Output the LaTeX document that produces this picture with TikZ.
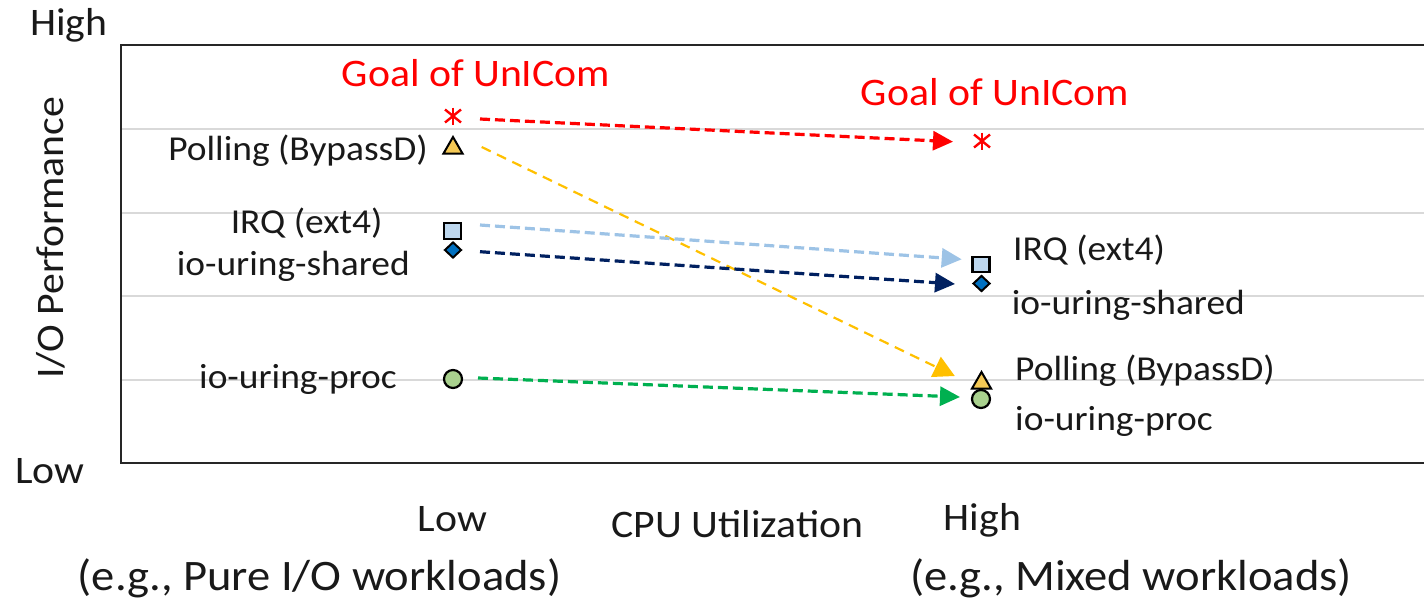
\documentclass[tikz,border=0pt]{standalone}
\usepackage{fontspec}
\setmainfont{Carlito}[FakeStretch=1.07]
\usetikzlibrary{arrows.meta,shapes.geometric}

\definecolor{gridgray}{HTML}{D9D9D9}
\definecolor{goalred}{HTML}{FF0000}
\definecolor{pollyellow}{HTML}{FFC000}
\definecolor{pollfill}{HTML}{F5C955}
\definecolor{irqblue}{HTML}{9DC3E6}
\definecolor{irqfill}{HTML}{BDD7EE}
\definecolor{sharednavy}{HTML}{002060}
\definecolor{sharedfill}{HTML}{0070C0}
\definecolor{procgreen}{HTML}{00B050}
\definecolor{procfill}{HTML}{A9D18E}

\tikzset{
  txt/.style={inner sep=0pt, text=black!90},
  lbl/.style={txt, font=\fontsize{35}{40}\selectfont},
  axislbl/.style={txt, font=\fontsize{39}{44}\selectfont},
  goallbl/.style={inner sep=0pt, text=goalred, font=\fontsize{39}{44}\selectfont},
  notelbl/.style={txt, font=\fontsize{43.5}{50}\selectfont},
  mk/.style={draw=black, line width=2.2pt, inner sep=0pt},
  sqmark/.style={mk, rectangle, fill=irqfill, minimum width=17pt, minimum height=15.5pt},
  dmmark/.style={mk, diamond, fill=sharedfill, minimum width=17pt, minimum height=16pt, line width=2pt},
  trmark/.style={mk, regular polygon, regular polygon sides=3, fill=pollfill, minimum size=22pt, line width=2pt},
  cimark/.style={mk, circle, fill=procfill, minimum size=18pt},
  astmark/.style={inner sep=0pt, minimum size=17pt},
  astline/.style={goalred, line width=2.4pt},
  conn/.style={dash pattern=on 10pt off 5pt, line width=3.2pt,
    -{Triangle[length=20pt,width=19pt]}},
}

\begin{document}
\begin{tikzpicture}[x=1pt,y=-1pt]
\useasboundingbox (0,0) rectangle (1424,603);

% grid and frame
\foreach \gy in {129,212.5,296,379.5}
  \draw[gridgray, line width=2pt] (122,\gy) -- (1424,\gy);
\draw[black!85, line width=2.6pt] (1424,45) -- (121,45) -- (121,463) -- (1424,463);

% axis texts
\node[axislbl, anchor=base] (yhigh) at (69,35) {High};
\node[axislbl, anchor=base] (ylow) at (50,483) {Low};
\node[axislbl, anchor=base, rotate=90] (ytitle) at (63,238) {I/O Performance};
\node[axislbl, anchor=base] (xlow) at (452.5,531) {Low};
\node[axislbl, anchor=base] (xtitle) at (737.5,537) {CPU Utilization};
\node[axislbl, anchor=base] (xhigh) at (982.5,530) {High};
\node[notelbl, anchor=base] (noteL) at (319.5,590) {(e.g., Pure I/O workloads)};
\node[notelbl, anchor=base] (noteR) at (1131,590) {(e.g., Mixed workloads)};

% markers, low CPU column
\node[astmark] (gL) at (453,116) {};
\node[trmark] (pL) at (453,148) {};
\node[sqmark] (iL) at (452.5,231) {};
\node[dmmark] (sL) at (453,250) {};
\node[cimark] (cL) at (453,379) {};

% markers, high CPU column
\node[astmark] (gR) at (982,141) {};
\node[sqmark] (iR) at (981,264.5) {};
\node[dmmark] (sR) at (981.5,283.5) {};
\node[trmark] (pR) at (981.5,383) {};
\node[cimark] (cR) at (981,399) {};

% asterisks
\foreach \n in {gL,gR} {
  \draw[astline] ([shift={(0,-8.5)}]\n.center) -- ([shift={(0,8.5)}]\n.center);
  \draw[astline] ([shift={(-8,-6.5)}]\n.center) -- ([shift={(8,6.5)}]\n.center);
  \draw[astline] ([shift={(-8,6.5)}]\n.center) -- ([shift={(8,-6.5)}]\n.center);
}

% labels
\node[goallbl, anchor=base] (goalL) at (476,86.7) {Goal of UnICom};
\node[goallbl, anchor=base] (goalR) at (995,105) {Goal of UnICom};
\node[lbl, anchor=base east] (pollL) at (428,160.7) {Polling (BypassD)};
\node[lbl, anchor=base east] (irqL) at (382.7,233) {IRQ (ext4)};
\node[lbl, anchor=base east] (shL) at (410,275) {io-uring-shared};
\node[lbl, anchor=base east] (procL) at (397,388) {io-uring-proc};
\node[lbl, anchor=base west] (irqR) at (1013,260) {IRQ (ext4)};
\node[lbl, anchor=base west] (shR) at (1011.7,314) {io-uring-shared};
\node[lbl, anchor=base west] (pollR) at (1015,380) {Polling (BypassD)};
\node[lbl, anchor=base west] (procR) at (1015,430) {io-uring-proc};

% transitions from low to high CPU utilization
\draw[conn, goalred] ([shift={(27,3)}]gL.center) -- ([shift={(-29,0.7)}]gR.center);
\draw[conn, pollyellow, line width=2.2pt, dash pattern=on 10pt off 7pt,
      -{Triangle[length=21pt,width=22pt]}]
  ([shift={(28.7,-1)}]pL.center) -- ([shift={(-26.7,-7)}]pR.center);
\draw[conn, irqblue] ([shift={(27.5,-6)}]iL.center) -- ([shift={(-19.3,-5.2)}]iR.center);
\draw[conn, sharednavy] ([shift={(27,1.7)}]sL.center) -- ([shift={(-26.5,0.5)}]sR.center);
\draw[conn, procgreen] ([shift={(25,-1)}]cL.center) -- ([shift={(-21,-2)}]cR.center);
\end{tikzpicture}
\end{document}
